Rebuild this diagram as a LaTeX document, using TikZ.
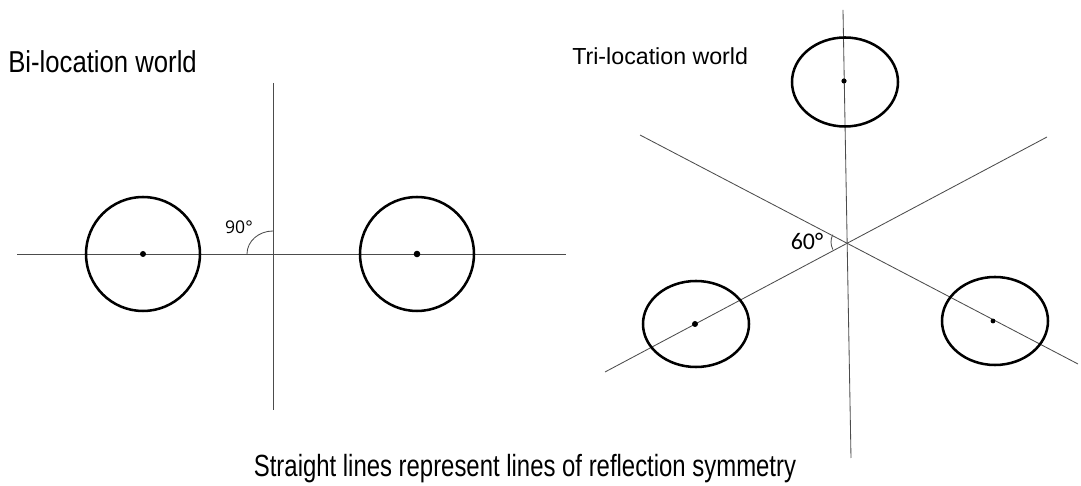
\documentclass[tikz,border=0pt]{standalone}
\usepackage{fontspec}
\newfontfamily\bifont[FakeStretch=0.85]{Liberation Sans}
\newfontfamily\trifont{Liberation Sans}
\newfontfamily\notefont[FakeStretch=0.78]{Liberation Sans}
\newfontfamily\anglefont{Carlito}
\newfontfamily\rightfont{Open Sans}
\begin{document}
\begin{tikzpicture}[x=0.025cm,y=0.025cm,
    mirror/.style={black!70,line width=0.6pt},
    world/.style={line width=1.8pt},
    label/.style={inner sep=0pt}]
    \useasboundingbox (0,0) rectangle (1081,486);
    % bi-location world
    \node[label,anchor=base west] (bi) at (8,413) {\bifont\fontsize{21.5}{24}\selectfont Bi-location world};
    \coordinate (bO) at (273,232);
    \coordinate (bW) at (17,232);
    \coordinate (bE) at (566,232);
    \coordinate (bN) at (273,403);
    \coordinate (bS) at (273,76);
    \draw[mirror] (bW) -- (bE);
    \draw[mirror] (bN) -- (bS);
    \draw[world] (143,232) circle (57);
    \draw[world] (417,232) circle (57);
    \fill (143,232) circle (3);
    \fill (417,232) circle (3.3);
    \draw[mirror] ([shift={(-26,0)}]bO) arc[start angle=180,end angle=90,x radius=26,y radius=23];
    \node[label] (right) at (239,259) {\rightfont\fontsize{12.5}{15}\selectfont 90°};
    % tri-location world
    \node[label,anchor=base west] (tri) at (572,421) {\trifont\fontsize{16.5}{19}\selectfont Tri-location world};
    \coordinate (tO) at (847,244);
    \coordinate (tN) at (843,476);
    \coordinate (tS) at (851,28);
    \coordinate (tSW) at (605,114);
    \coordinate (tNE) at (1047,349);
    \coordinate (tNW) at (640,351);
    \coordinate (tSE) at (1078,122);
    \draw[mirror] (tN) -- (tS);
    \draw[mirror] (tSW) -- (tNE);
    \draw[mirror] (tNW) -- (tSE);
    \draw[world] (845,404) ellipse (53 and 44.5);
    \draw[world] (696,162) ellipse (53 and 43);
    \draw[world] (995,165) ellipse (53 and 44);
    \fill (844,405) circle (2.6);
    \fill (695,162) circle (3);
    \fill (993,165) circle (2.4);
    \draw[mirror] ([shift={(152.7:16)}]tO) arc[start angle=152.7,end angle=208.2,radius=16];
    \node[label] (sixty) at (807,245) {\anglefont\fontsize{17}{19}\selectfont 60°};
    % note
    \node[label,anchor=base] (note) at (525,9) {\notefont\fontsize{21.8}{24}\selectfont Straight lines represent lines of reflection symmetry};
\end{tikzpicture}
\end{document}
